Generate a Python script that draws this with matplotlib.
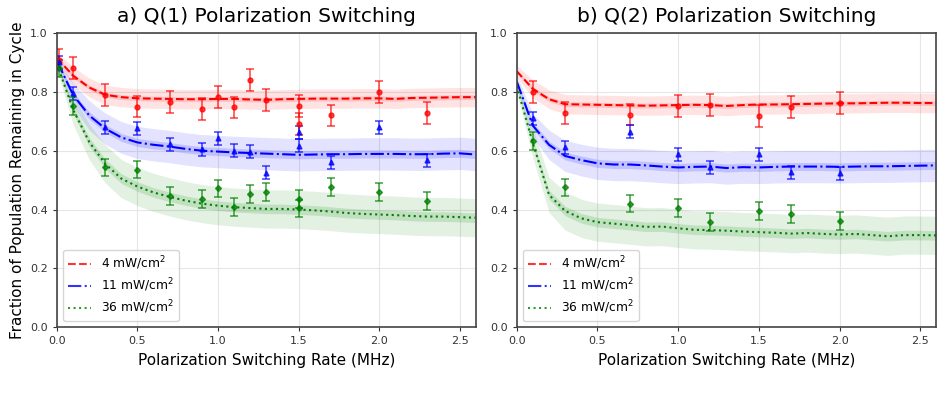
import numpy as np
import matplotlib
matplotlib.use("Agg")
import matplotlib.pyplot as plt

# simulated curves, sampled every 0.1 MHz
x_sim = [0.0, 0.1, 0.2, 0.3, 0.4, 0.5, 0.6, 0.7, 0.8, 0.9, 1.0, 1.1, 1.2, 1.3,
         1.4, 1.5, 1.6, 1.7, 1.8, 1.9, 2.0, 2.1, 2.2, 2.3, 2.4, 2.5, 2.6]

q1_red = [0.915, 0.855, 0.815, 0.790, 0.782, 0.778, 0.777, 0.776, 0.775, 0.775, 0.776, 0.776, 0.774, 0.773,
          0.775, 0.776, 0.777, 0.777, 0.777, 0.778, 0.778, 0.776, 0.779, 0.780, 0.781, 0.782, 0.782]
q1_blue = [0.905, 0.790, 0.720, 0.675, 0.645, 0.628, 0.620, 0.614, 0.606, 0.600, 0.597, 0.594, 0.592, 0.590,
           0.588, 0.586, 0.587, 0.588, 0.588, 0.589, 0.589, 0.589, 0.588, 0.588, 0.590, 0.591, 0.587]
q1_green = [0.895, 0.740, 0.630, 0.555, 0.505, 0.478, 0.458, 0.443, 0.430, 0.420, 0.413, 0.408, 0.405, 0.402,
            0.402, 0.400, 0.397, 0.393, 0.388, 0.385, 0.383, 0.381, 0.378, 0.376, 0.376, 0.374, 0.372]

q2_red = [0.870, 0.810, 0.775, 0.758, 0.757, 0.756, 0.755, 0.754, 0.753, 0.754, 0.755, 0.756, 0.755, 0.752,
          0.755, 0.757, 0.757, 0.758, 0.759, 0.760, 0.761, 0.761, 0.762, 0.763, 0.763, 0.762, 0.762]
q2_blue = [0.835, 0.685, 0.620, 0.582, 0.568, 0.557, 0.553, 0.553, 0.550, 0.546, 0.543, 0.545, 0.546, 0.541,
           0.544, 0.543, 0.545, 0.546, 0.546, 0.546, 0.545, 0.546, 0.547, 0.547, 0.548, 0.549, 0.550]
q2_green = [0.820, 0.625, 0.450, 0.395, 0.370, 0.357, 0.352, 0.347, 0.341, 0.342, 0.336, 0.331, 0.330, 0.328,
            0.325, 0.323, 0.321, 0.318, 0.320, 0.317, 0.315, 0.317, 0.313, 0.309, 0.313, 0.313, 0.312]

# outer band half widths
red_hw = [0.02, 0.03, 0.032, 0.033, 0.033, 0.033, 0.033, 0.033, 0.033, 0.033, 0.033, 0.033, 0.033, 0.033,
          0.033, 0.033, 0.033, 0.033, 0.033, 0.033, 0.033, 0.033, 0.033, 0.033, 0.033, 0.033, 0.033]
blue_hw = [0.02, 0.04, 0.05, 0.053, 0.054, 0.055, 0.055, 0.055, 0.055, 0.055, 0.055, 0.055, 0.055, 0.055,
           0.055, 0.055, 0.055, 0.055, 0.055, 0.055, 0.055, 0.055, 0.055, 0.055, 0.055, 0.055, 0.055]
green_hw = [0.02, 0.05, 0.06, 0.065, 0.065, 0.065, 0.065, 0.065, 0.065, 0.065, 0.065, 0.065, 0.065, 0.065,
            0.065, 0.065, 0.065, 0.065, 0.065, 0.065, 0.065, 0.065, 0.065, 0.065, 0.065, 0.065, 0.065]

# measured points, Q(1)
q1_red_x = [0.01, 0.1, 0.3, 0.5, 0.7, 0.9, 1.0, 1.1, 1.2, 1.3, 1.5, 1.5, 1.7, 2.0, 2.3]
q1_red_y = [0.91, 0.88, 0.79, 0.75, 0.765, 0.741, 0.783, 0.747, 0.84, 0.772, 0.752, 0.69, 0.72, 0.80, 0.729]
q1_blue_x = [0.01, 0.1, 0.3, 0.5, 0.7, 0.9, 1.0, 1.1, 1.2, 1.3, 1.5, 1.5, 1.7, 2.0, 2.3]
q1_blue_y = [0.90, 0.796, 0.68, 0.676, 0.622, 0.605, 0.643, 0.60, 0.597, 0.525, 0.662, 0.617, 0.56, 0.68, 0.567]
q1_green_x = [0.01, 0.1, 0.3, 0.5, 0.7, 0.9, 1.0, 1.1, 1.2, 1.3, 1.5, 1.5, 1.7, 2.0, 2.3]
q1_green_y = [0.88, 0.752, 0.543, 0.536, 0.445, 0.436, 0.472, 0.408, 0.452, 0.459, 0.436, 0.404, 0.476, 0.46, 0.428]

# measured points, Q(2)
q2_x = [0.1, 0.3, 0.7, 1.0, 1.2, 1.5, 1.7, 2.0]
q2_red_y = [0.80, 0.727, 0.723, 0.752, 0.756, 0.718, 0.748, 0.762]
q2_blue_y = [0.711, 0.611, 0.664, 0.588, 0.543, 0.588, 0.526, 0.523]
q2_green_y = [0.632, 0.475, 0.42, 0.406, 0.358, 0.396, 0.384, 0.361]

red_err, blue_err, green_err = 0.037, 0.022, 0.03
labels = ['4 mW/cm$^2$', '11 mW/cm$^2$', '36 mW/cm$^2$']


def draw_panel(ax, curves, points, title):
    styles = [('red', '--', 'o', red_hw, red_err),
              ('blue', '-.', '^', blue_hw, blue_err),
              ('green', ':', 'D', green_hw, green_err)]
    xs = np.array(x_sim)
    for (col, ls, mk, hw, err), y, (px, py), lab in zip(styles, curves, points, labels):
        y = np.array(y)
        hw = np.array(hw)
        ax.fill_between(xs, y - hw, y + hw, color=col, alpha=0.11, lw=0)
        ax.fill_between(xs, y - hw * 0.25, y + hw * 0.25, color=col, alpha=0.15, lw=0)
        ax.plot(xs, y, ls=ls, color=col, lw=1.5, label=lab)
        ax.errorbar(px, py, yerr=err, fmt=mk, color=col, ms=3.5 if mk != 'D' else 3,
                    ecolor=col, elinewidth=1.1, capsize=3, capthick=1.1, alpha=0.75)
    ax.set_xlim(0, 2.6)
    ax.set_ylim(0, 1.0)
    ax.set_xticks([0.0, 0.5, 1.0, 1.5, 2.0, 2.5])
    ax.set_yticks([0.0, 0.2, 0.4, 0.6, 0.8, 1.0])
    ax.grid(True, color='#e6e6e6', lw=0.8)
    ax.set_axisbelow(True)
    ax.tick_params(labelsize=8, colors='#333333', length=3)
    for s in ax.spines.values():
        s.set_color('#444444')
        s.set_linewidth(1.2)
    ax.set_title(title, fontsize=14.5, pad=8)
    ax.set_xlabel('Polarization Switching Rate (MHz)', fontsize=11, labelpad=5)
    leg = ax.legend(loc='lower left', fontsize=8.8, handlelength=1.9, borderpad=0.4,
                    labelspacing=0.35, handletextpad=0.8, borderaxespad=0.5)
    for h in leg.get_lines():
        h.set_alpha(0.8)


fig = plt.figure(figsize=(9.43, 3.98), dpi=100)
ax1 = fig.add_axes([0.0604, 0.178, 0.444, 0.739])
ax2 = fig.add_axes([0.548, 0.178, 0.445, 0.739])

draw_panel(ax1, [q1_red, q1_blue, q1_green],
           [(q1_red_x, q1_red_y), (q1_blue_x, q1_blue_y), (q1_green_x, q1_green_y)],
           'a) Q(1) Polarization Switching')
draw_panel(ax2, [q2_red, q2_blue, q2_green],
           [(q2_x, q2_red_y), (q2_x, q2_blue_y), (q2_x, q2_green_y)],
           'b) Q(2) Polarization Switching')
ax1.set_ylabel('Fraction of Population Remaining in Cycle', fontsize=11)

fig.savefig('out.png', dpi=100)
